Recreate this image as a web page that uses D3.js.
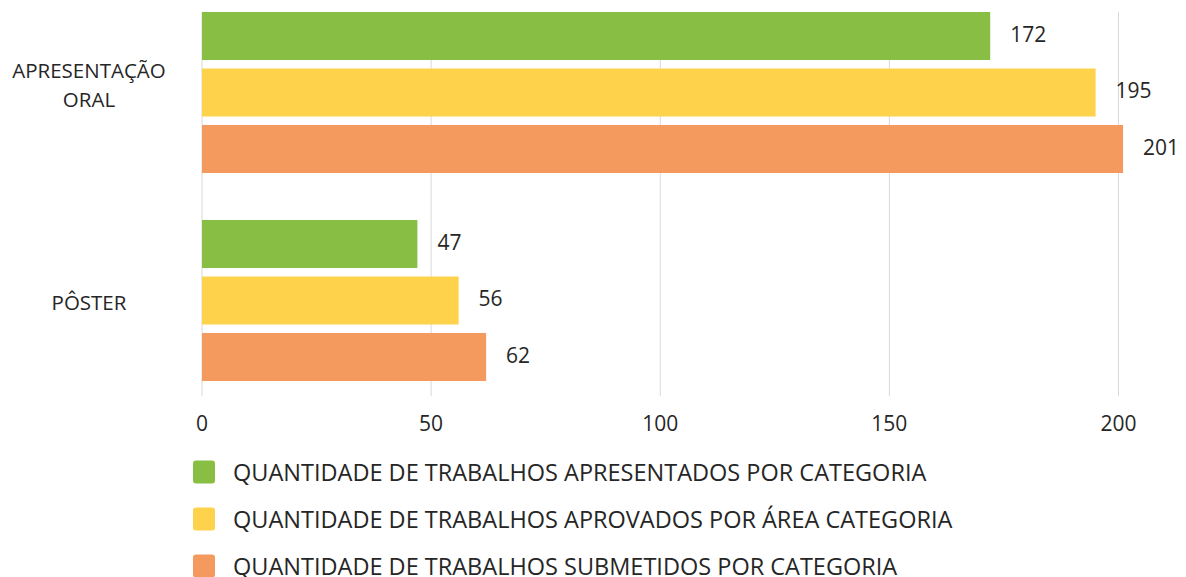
<!DOCTYPE html>
<html>
<head>
<meta charset="utf-8">
<script src="https://cdn.jsdelivr.net/npm/d3@7"></script>
<style>
  body { margin: 0; background: #fff; }
  text { font-family: "Open Sans", sans-serif; fill: #262626; }
</style>
</head>
<body>
<svg width="1186" height="577"></svg>
<script>
// categories and series
const categories = ["APRESENTAÇÃO ORAL", "PÔSTER"];
const categoryLines = [["APRESENTAÇÃO", "ORAL"], ["PÔSTER"]];
const seriesNames = [
  "QUANTIDADE DE TRABALHOS APRESENTADOS POR CATEGORIA",
  "QUANTIDADE DE TRABALHOS APROVADOS POR ÁREA CATEGORIA",
  "QUANTIDADE DE TRABALHOS SUBMETIDOS POR CATEGORIA"
];
const apresentados = [172, 47];
const aprovados = [195, 56];
const submetidos = [201, 62];
const xTicks = [0, 50, 100, 150, 200];
const colors = ["#88BE44", "#FFD24C", "#F59A5E"];

const seriesValues = [apresentados, aprovados, submetidos];

const svg = d3.select("svg");

const x = d3.scaleLinear().domain([0, 200]).range([202, 1118.5]);

// outer band: categories
const y0 = d3.scaleBand()
  .domain(categories)
  .range([12, 381])
  .paddingInner(0.226)
  .paddingOuter(0);

// inner band: series
const y1 = d3.scaleBand()
  .domain(d3.range(seriesNames.length))
  .range([0, y0.bandwidth()])
  .paddingInner(0.15)
  .paddingOuter(0);

// gridlines
svg.append("g")
  .selectAll("line")
  .data(xTicks)
  .enter()
  .append("line")
  .attr("x1", d => x(d))
  .attr("x2", d => x(d))
  .attr("y1", 12)
  .attr("y2", 396)
  .attr("stroke", "#d9d9d9")
  .attr("stroke-width", 1);

// tick labels
svg.append("g")
  .selectAll("text")
  .data(xTicks)
  .enter()
  .append("text")
  .attr("x", d => x(d))
  .attr("y", 423)
  .attr("text-anchor", "middle")
  .attr("dominant-baseline", "central")
  .style("font-size", "21px")
  .text(d => d);

// bars
const groups = svg.append("g")
  .selectAll("g")
  .data(categories)
  .enter()
  .append("g")
  .attr("transform", d => `translate(0,${y0(d)})`);

groups.selectAll("rect")
  .data((d, ci) => seriesValues.map((vals, si) => ({ si, v: vals[ci] })))
  .enter()
  .append("rect")
  .attr("x", x(0))
  .attr("y", d => y1(d.si))
  .attr("width", d => x(d.v) - x(0))
  .attr("height", y1.bandwidth())
  .attr("fill", d => colors[d.si]);

groups.selectAll("text.val")
  .data((d, ci) => seriesValues.map((vals, si) => ({ si, v: vals[ci] })))
  .enter()
  .append("text")
  .attr("class", "val")
  .attr("x", d => x(d.v) + 20)
  .attr("y", d => y1(d.si) + y1.bandwidth() / 2 - 2)
  .attr("dominant-baseline", "central")
  .style("font-size", "21px")
  .text(d => d.v);

// category labels
categories.forEach((c, i) => {
  const lines = categoryLines[i];
  const cy = y0(c) + y0.bandwidth() / 2 + (lines.length > 1 ? -7.5 : 1);
  const t = svg.append("text")
    .attr("text-anchor", "middle")
    .style("font-size", "20.5px");
  lines.forEach((l, j) => {
    t.append("tspan")
      .attr("x", 89)
      .attr("y", cy + (j - (lines.length - 1) / 2) * 29)
      .attr("dominant-baseline", "central")
      .text(l);
  });
});

// legend
const legend = svg.append("g")
  .selectAll("g")
  .data(seriesNames)
  .enter()
  .append("g")
  .attr("transform", (d, i) => `translate(0,${472 + i * 47})`);

legend.append("rect")
  .attr("x", 193)
  .attr("y", -11.5)
  .attr("width", 22)
  .attr("height", 23)
  .attr("rx", 3)
  .attr("fill", (d, i) => colors[i]);

legend.append("text")
  .attr("x", 233)
  .attr("y", 0)
  .attr("dominant-baseline", "central")
  .style("font-size", "23.5px")
  .text(d => d);
</script>
</body>
</html>
